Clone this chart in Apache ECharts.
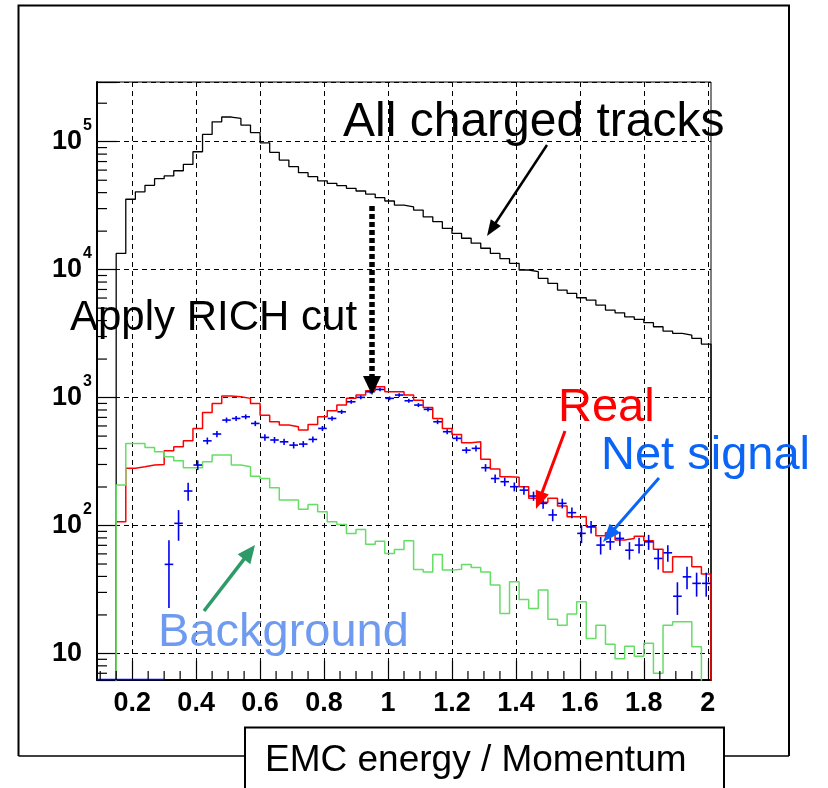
<!DOCTYPE html>
<html><head><meta charset="utf-8">
<script src="https://cdn.jsdelivr.net/npm/echarts@6/dist/echarts.min.js"></script>
<style>html,body{margin:0;padding:0;background:#fff}#c{width:828px;height:788px}</style>
</head><body><div id="c"></div>
<script>
// ---- data (bin low edges + final upper edge) ----
const binEdges = [0.09,0.12,0.15,0.18,0.21,0.24,0.27,0.30,0.33,0.36,0.39,0.42,0.45,0.48,0.51,0.54,0.57,0.60,0.63,0.66,0.69,0.72,0.75,0.78,0.81,0.84,0.87,0.90,0.93,0.96,0.99,1.02,1.05,1.08,1.11,1.14,1.17,1.20,1.23,1.26,1.29,1.32,1.35,1.38,1.41,1.44,1.47,1.50,1.53,1.56,1.59,1.62,1.65,1.68,1.71,1.74,1.77,1.80,1.83,1.86,1.89,1.92,1.95,1.98,2.01];
const allTracks = [0,0,13400,35500,40600,45600,51400,54000,59300,66500,83500,114000,143000,156000,152000,135000,118000,98000,82600,71900,63800,57300,53300,49500,47300,45300,43200,41200,39000,36500,34400,32000,31000,29200,25900,23700,21000,19200,17600,16100,14700,13400,12200,11200,9940,9640,8550,7820,6930,6530,6030,5780,5290,4830,4600,4280,4090,3850,3580,3310,3180,3080,2900,2620];
const realHist = [0,0,107,280,288,297,300,384,412,459,574,766,901,1027,1015,986,901,729,647,610,591,557,617,708,789,874,986,1047,1131,1215,1109,1109,1047,955,838,687,574,515,443,451,329,276,240,238,201,163,152,163,142,117,117,97.7,83,87.6,76.9,79,82.6,75.9,65.3,43.4,56.9,56.9,47.5,41.7];
const backgroundHist = [0,0,207,438,438,407,377,344,321,283,283,315,355,355,297,288,243,233,197,158,158,134,146,128,107,102,86.8,93.2,71.5,75.5,60.5,65,76,45.3,43.4,59.4,44.8,45.6,49.6,47,43.4,34.2,20.5,36.3,26.4,22.5,31.3,18.5,16.6,20.3,25.3,13.1,16.6,11.8,9.1,11.4,9.5,12,7.0,16.6,17.7,17.7,11.3,0];
const netSignal = [0,0,0,0,0,0,0,49.7,104,186,297,459,519,667,687,708,628,488,466,451,425,433,471,574,687,774,927,1004,1110,1158,986,1047,944,874,809,647,541,480,388,401,283,233,220,201,189,170,149,121,149,126,86.8,97.7,70.3,74.5,79.3,64.1,70.3,74.5,55.3,61.2,28,39.7,35.3,35.3];
const netSignalErr = [0,0,0,0,0,0,0,27,28,30,26,28,29,31,31,31,30,28,26,25,25,24,25,26,28,30,32,33,34,35,34,34,33,31,30,27,25,24,22,22,19,18,17,16,15,14,14,13,13,12,14,11,11,10,10,10,10,10,10,9,8,8,7.5,7.5];
const xMajorTicks = [0.2,0.4,0.6,0.8,1.0,1.2,1.4,1.6,1.8,2.0];
const xMinorTicks = [0.1,0.15,0.25,0.3,0.35,0.45,0.5,0.55,0.65,0.7,0.75,0.85,0.9,0.95,1.05,1.1,1.15,1.25,1.3,1.35,1.45,1.5,1.55,1.65,1.7,1.75,1.85,1.9,1.95];
const yMinorTicks = [7,8,9,20,30,40,50,60,70,80,90,200,300,400,500,600,700,800,900,2000,3000,4000,5000,6000,7000,8000,9000,20000,30000,40000,50000,60000,70000,80000,90000,200000];
const xRange = [0.09, 2.01];
const yRange = [6.2, 2.93e5];

// ---- helpers ----
const FLOOR = 1; // empty bins are drawn below the visible floor (clipped)
function stepData(vals){
  const d = [[binEdges[0], FLOOR]];
  for (let i = 0; i < vals.length; i++) d.push([binEdges[i], vals[i] > 0 ? vals[i] : FLOOR]);
  const last = vals[vals.length-1] > 0 ? vals[vals.length-1] : FLOOR;
  d.push([binEdges[vals.length], last]);
  d.push([binEdges[vals.length], FLOOR]);
  return d;
}
const crossData = [];
for (let i = 0; i < netSignal.length; i++) {
  if (netSignal[i] === null) continue;
  crossData.push([binEdges[i], binEdges[i+1], netSignal[i], netSignalErr[i]]);
}
function arrow(x1,y1,x2,y2,color,w,hl,hw){
  const dx=x2-x1, dy=y2-y1, L=Math.hypot(dx,dy), ux=dx/L, uy=dy/L;
  const bx=x2-ux*hl, by=y2-uy*hl;
  return [
    {type:'line', shape:{x1:x1,y1:y1,x2:bx+ux*2,y2:by+uy*2}, style:{stroke:color,lineWidth:w}, z:50},
    {type:'polygon', shape:{points:[[x2,y2],[bx-uy*hw,by+ux*hw],[bx+uy*hw,by-ux*hw]]}, style:{fill:color}, z:50}
  ];
}
const FONT = 'Liberation Sans, Arial, Helvetica, sans-serif';

const chart = echarts.init(document.getElementById('c'), null, {renderer:'canvas'});
const dash = [5,4];
chart.setOption({
  animation:false,
  backgroundColor:'#fff',
  grid:{left:97, top:82, width:614, height:598, show:true, borderColor:'#000', borderWidth:1, backgroundColor:'transparent'},
  xAxis:{type:'value', min:xRange[0], max:xRange[1],
    axisLine:{show:true, onZero:false, lineStyle:{color:'#000', width:2}},
    axisTick:{show:true, inside:true, length:19, customValues:xMajorTicks, lineStyle:{color:'#000', width:1.2}},
    axisLabel:{show:true, customValues:xMajorTicks, margin:10, color:'#000', fontFamily:FONT, fontWeight:'bold', fontSize:27,
      formatter:v=>String(+(+v).toFixed(1))},
    splitLine:{show:true, lineStyle:{color:'#000', width:1, type:dash}}
  },
  yAxis:{type:'log', logBase:10, min:yRange[0], max:yRange[1],
    axisLine:{show:true, onZero:false, lineStyle:{color:'#000', width:2}},
    axisTick:{show:true, inside:true, length:20, lineStyle:{color:'#000', width:1.2}},
    axisLabel:{show:true, margin:5, color:'#000', fontFamily:FONT,
      formatter:v=>{
        const l=Math.log10(v), e=Math.round(l);
        if (Math.abs(l-e)>1e-6) return '';
        if (e===1) return '{b|10}{h|0}';
        return '{b|10}{s|'+e+'}';
      },
      rich:{
        b:{fontSize:27, fontWeight:'bold', fontFamily:FONT, color:'#000', lineHeight:28},
        s:{fontSize:16, fontWeight:'bold', fontFamily:FONT, color:'#000', verticalAlign:'top', lineHeight:16, padding:[-10,0,0,1]},
        h:{fontSize:16, fontWeight:'bold', fontFamily:FONT, color:'transparent', verticalAlign:'top', lineHeight:16, padding:[-10,0,0,1]}
      }
    },
    splitLine:{show:true, lineStyle:{color:'#000', width:1, type:dash}}
  },
  series:[
    {type:'line', name:'All charged tracks', step:'end', data:stepData(allTracks), showSymbol:false, symbol:'none', clip:true,
      lineStyle:{color:'#000', width:1.3}, z:3},
    {type:'line', name:'Real', step:'end', data:stepData(realHist), showSymbol:false, symbol:'none', clip:true,
      lineStyle:{color:'#ff0000', width:1.5}, z:4},
    {type:'line', name:'Background', step:'end', data:stepData(backgroundHist), showSymbol:false, symbol:'none', clip:true,
      lineStyle:{color:'#66dd66', width:1.5}, z:5},
    {type:'custom', name:'Net signal', data:crossData, encode:{x:[0,1], y:2}, z:6, silent:true,
      renderItem:(params, api)=>{
        const lo=api.value(0), hi=api.value(1), v=api.value(2), e=api.value(3);
        const cs=params.coordSys;
        if (!(v>0)) {
          const yb=cs.y+cs.height-0.5;
          return {type:'line', shape:{x1:api.coord([lo,100])[0], y1:yb, x2:api.coord([hi,100])[0], y2:yb}, style:{stroke:'#0000ee', lineWidth:1.5}};
        }
        const c=(lo+hi)/2;
        const p1=api.coord([lo,v]), p2=api.coord([hi,v]);
        const t=api.coord([c,v+e]), b=api.coord([c,Math.max(v-e,0.01)]);
        return {type:'group', children:[
          {type:'line', shape:{x1:p1[0]+0.5,y1:p1[1],x2:p2[0]-0.5,y2:p2[1]}, style:{stroke:'#0000ee', lineWidth:1.6}},
          {type:'line', shape:{x1:t[0],y1:t[1],x2:b[0],y2:b[1]}, style:{stroke:'#0000ee', lineWidth:1.6}}
        ]};
      }},
    {type:'custom', name:'x minor ticks', data:xMinorTicks.map(v=>[v,100]), z:8, silent:true,
      renderItem:(params, api)=>{
        const x=api.coord([api.value(0),100])[0], cs=params.coordSys, yb=cs.y+cs.height;
        return {type:'line', shape:{x1:x,y1:yb,x2:x,y2:yb-9}, style:{stroke:'#000', lineWidth:1.2}};
      }},
    {type:'custom', name:'y minor ticks', data:yMinorTicks.map(v=>[1,v]), z:8, silent:true,
      renderItem:(params, api)=>{
        const y=api.coord([1,api.value(1)])[1], cs=params.coordSys;
        return {type:'line', shape:{x1:cs.x,y1:y,x2:cs.x+10,y2:y}, style:{stroke:'#000', lineWidth:1.2}};
      }}
  ],
  graphic:[
    {type:'polyline', shape:{points:[[18.5,756],[18.5,5.5],[789,5.5],[789,756]]}, style:{fill:'none', stroke:'#000', lineWidth:2}, z:1, silent:true},
    {type:'line', shape:{x1:18.5,y1:756,x2:789,y2:756}, style:{stroke:'#000', lineWidth:1.3}, z:1, silent:true},
    {type:'rect', shape:{x:245,y:727.5,width:479,height:70}, style:{fill:'#fff', stroke:'#000', lineWidth:2}, z:60, silent:true},
    {type:'text', x:265, y:761, style:{text:'EMC energy / Momentum', font:'37px '+FONT, fill:'#000', verticalAlign:'middle'}, z:61},
    {type:'text', x:343, y:123, style:{text:'All charged tracks', font:'48px '+FONT, fill:'#000', verticalAlign:'middle'}, z:55},
    {type:'text', x:70, y:318, style:{text:'Apply RICH cut', font:'42px '+FONT, fill:'#000', verticalAlign:'middle'}, z:55},
    {type:'text', x:558, y:408, style:{text:'Real', font:'47px '+FONT, fill:'#ff0000', verticalAlign:'middle'}, z:55},
    {type:'text', x:601, y:456, style:{text:'Net signal', font:'47px '+FONT, fill:'#0a64f5', verticalAlign:'middle'}, z:55},
    {type:'text', x:158, y:633, style:{text:'Background', font:'47px '+FONT, fill:'#6e9bf0', verticalAlign:'middle'}, z:55},
    ...arrow(547,145,487,236,'#000',2.5,16,6),
    ...arrow(565,431,536,509,'#ff0000',3,18,7),
    ...arrow(659,478,603,542,'#0a64f5',3,18,7),
    ...arrow(204,611,255,545,'#2e9a68',3.5,18,8),
    {type:'line', shape:{x1:372,y1:206,x2:372,y2:378}, style:{stroke:'#000', lineWidth:5.5, lineDash:[5,3]}, z:50},
    {type:'polygon', shape:{points:[[363,376],[381,376],[372,395]]}, style:{fill:'#000'}, z:50}
  ]
});
</script>
</body></html>
